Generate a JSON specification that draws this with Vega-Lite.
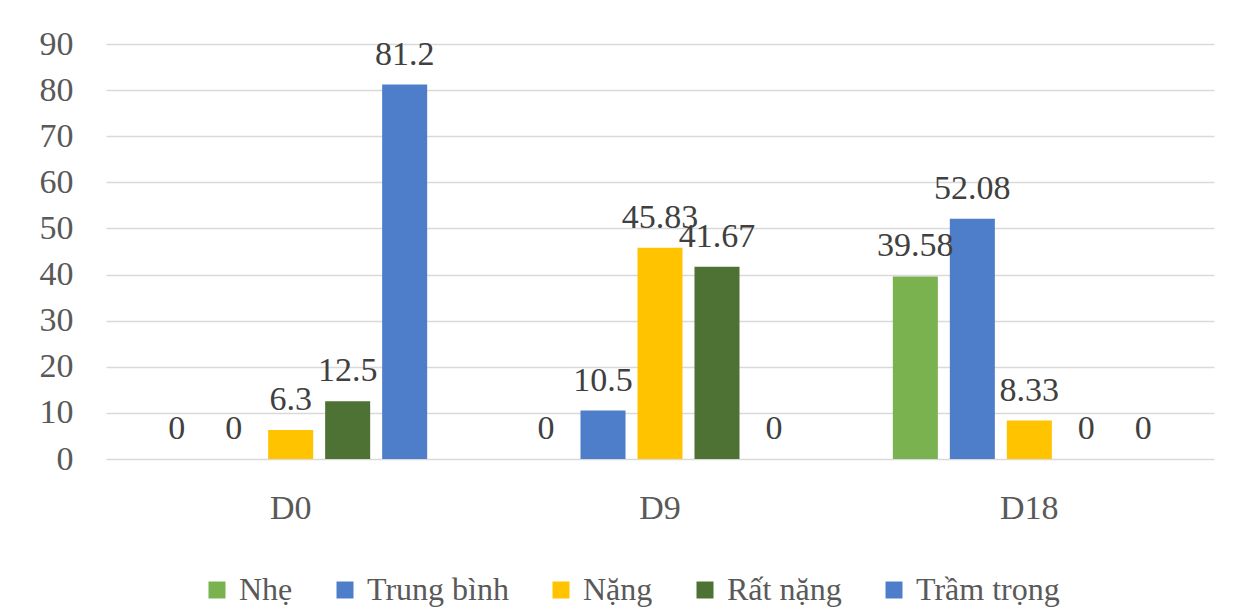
{
  "$schema": "https://vega.github.io/schema/vega-lite/v6.json",
  "width": 1108,
  "height": 415,
  "autosize": "none",
  "padding": {"left": 106, "top": 44, "right": 31, "bottom": 155},
  "background": "white",
  "config": {
    "font": "Liberation Serif",
    "view": {"stroke": null},
    "axis": {"labelFont": "Liberation Serif", "labelColor": "#595959", "labelFontSize": 34}
  },
  "data": {
    "values": [
      {"day": "D0", "level": "Nhẹ", "value": 0},
      {"day": "D0", "level": "Trung bình", "value": 0},
      {"day": "D0", "level": "Nặng", "value": 6.3},
      {"day": "D0", "level": "Rất nặng", "value": 12.5},
      {"day": "D0", "level": "Trầm trọng", "value": 81.2},
      {"day": "D9", "level": "Nhẹ", "value": 0},
      {"day": "D9", "level": "Trung bình", "value": 10.5},
      {"day": "D9", "level": "Nặng", "value": 45.83},
      {"day": "D9", "level": "Rất nặng", "value": 41.67},
      {"day": "D9", "level": "Trầm trọng", "value": 0},
      {"day": "D18", "level": "Nhẹ", "value": 39.58},
      {"day": "D18", "level": "Trung bình", "value": 52.08},
      {"day": "D18", "level": "Nặng", "value": 8.33},
      {"day": "D18", "level": "Rất nặng", "value": 0},
      {"day": "D18", "level": "Trầm trọng", "value": 0}
    ]
  },
  "encoding": {
    "x": {
      "field": "day", "type": "nominal", "sort": ["D0", "D9", "D18"],
      "scale": {"paddingInner": 0, "paddingOuter": 0},
      "axis": {"title": null, "labelAngle": 0, "domain": false, "ticks": false, "labelPadding": 32}
    },
    "xOffset": {
      "field": "level", "type": "nominal",
      "scale": {"domain": ["Nhẹ", "Trung bình", "Nặng", "Rất nặng", "Trầm trọng"], "paddingInner": 0.21, "paddingOuter": 0.845}
    },
    "y": {
      "field": "value", "type": "quantitative",
      "scale": {"domain": [0, 90], "nice": false},
      "axis": {"title": null, "values": [0, 10, 20, 30, 40, 50, 60, 70, 80, 90], "domain": false, "ticks": false, "labelPadding": 33, "gridColor": "#D9D9D9", "gridWidth": 1.5}
    }
  },
  "layer": [
    {
      "mark": {"type": "bar"},
      "encoding": {
        "color": {
          "field": "level", "type": "nominal",
          "scale": {"domain": ["Nhẹ", "Trung bình", "Nặng", "Rất nặng", "Trầm trọng"], "range": ["#7AB24F", "#4E7ECA", "#FFC300", "#4E7134", "#4E7ECA"]},
          "legend": {
            "title": null, "orient": "none", "direction": "horizontal",
            "legendX": 95, "legendY": 530,
            "symbolType": "square", "symbolSize": 289, "symbolStrokeWidth": 0,
            "labelFont": "Liberation Serif", "labelFontSize": 32, "labelColor": "#595959",
            "labelOffset": 6, "columnPadding": 36, "labelLimit": 400
          }
        }
      }
    },
    {
      "mark": {"type": "text", "baseline": "alphabetic", "dy": -20, "fontSize": 34, "font": "Liberation Serif", "color": "#404040"},
      "encoding": {
        "text": {"field": "value", "type": "quantitative"}
      }
    }
  ]
}
